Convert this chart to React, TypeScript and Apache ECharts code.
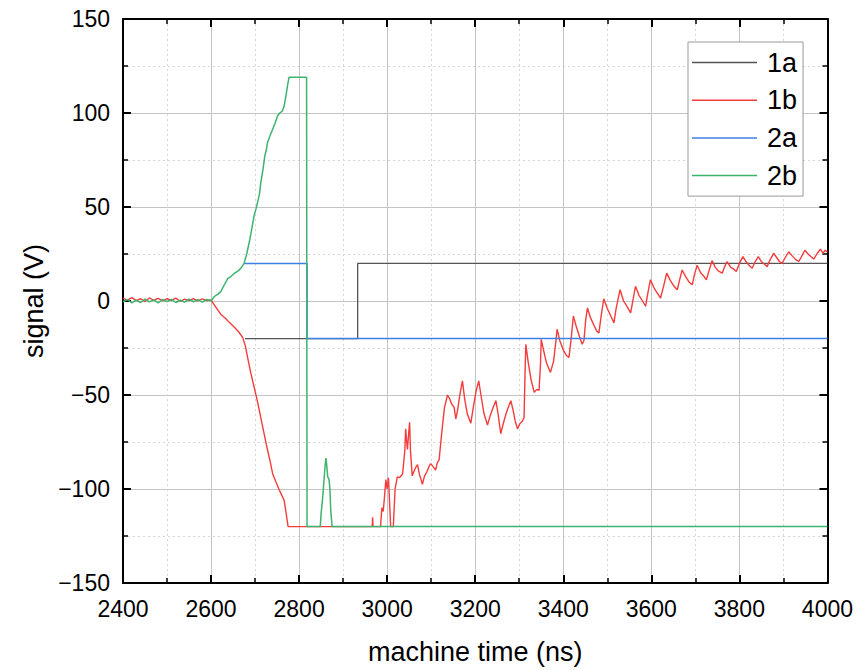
import React, { useEffect, useRef } from "react";
import * as echarts from "echarts";

const seriesNames = ["1a", "1b", "2a", "2b"];
const seriesColors = ["#555555", "#f43c3c", "#3d7fe3", "#3cb46e"];

const s1a: number[][] = [[2677, -20], [2933, -20], [2933, 20], [4000, 20]];

const s2a: number[][] = [[2675, 20], [2818, 20], [2818, -20], [4000, -20]];

const s1b: number[][] = [
  [2400, 1.5], [2410, 0.5], [2420, 1.8], [2430, 0.2], [2440, 1.2], [2450, -0.3], [2460, 1.6], [2470, 0.4],
  [2480, 1.4], [2490, 0], [2500, 1.2], [2510, 0.3], [2520, 1.5], [2530, -0.2], [2540, 1.0], [2550, 0.2],
  [2560, 1.3], [2570, 0.1], [2580, 1.1], [2590, 0.3], [2600, 0.5],
  [2610, -3], [2622, -7], [2632, -9], [2642, -11.5], [2653, -14], [2663, -16.5], [2672, -19.5], [2678, -24],
  [2683, -30], [2690, -38], [2698, -46], [2705, -53], [2713, -62], [2720, -70], [2728, -79], [2734, -85],
  [2740, -92], [2747, -96], [2755, -100.5], [2760, -103], [2766, -106], [2770, -112], [2775, -120],
  [2966, -120], [2967, -115], [2968, -120], [2985, -120], [2988, -110], [2991, -112], [2994, -104], [2997, -95],
  [3000, -100], [3003, -94], [3006, -110], [3008, -120], [3014, -120], [3018, -100], [3023, -93.5], [3028, -94],
  [3035, -92], [3040, -80], [3042, -68], [3044, -74], [3046, -79], [3049, -70], [3051, -64.5], [3053, -80],
  [3057, -93], [3062, -90], [3066, -88], [3069, -87], [3073, -92], [3077, -95], [3080, -97.5], [3085, -93],
  [3090, -91], [3095, -88], [3099, -86.5], [3104, -88], [3110, -90], [3114, -86], [3118, -84.5], [3124, -70],
  [3130, -57], [3137, -50], [3142, -52], [3147, -55], [3152, -56.5], [3156, -62.7], [3160, -58], [3165, -50],
  [3171, -42.5], [3176, -52], [3182, -60], [3190, -65], [3196, -56], [3202, -48], [3208, -42.5], [3213, -50],
  [3220, -60], [3228, -66], [3234, -61], [3240, -57], [3247, -53], [3252, -60], [3258, -70.6], [3264, -65],
  [3270, -60], [3276, -56], [3281, -53], [3286, -58], [3291, -64], [3296, -68], [3302, -65], [3307, -64],
  [3311, -62], [3313, -40], [3315, -23], [3320, -32], [3327, -42], [3334, -48.6], [3340, -47], [3345, -47.6],
  [3348, -35], [3350, -20.4], [3355, -26], [3362, -33], [3371, -38], [3378, -32], [3383, -22], [3386, -15],
  [3392, -21], [3400, -26], [3407, -29], [3413, -30], [3418, -20], [3423, -8], [3430, -14], [3437, -19],
  [3443, -23], [3447, -21], [3451, -10], [3455, -3.7], [3462, -9], [3470, -13], [3476, -16], [3481, -17],
  [3486, -8], [3492, 1.2], [3500, -4], [3508, -8], [3515, -11.6], [3520, -4], [3529, 6], [3537, 0],
  [3545, -3], [3553, -6.3], [3558, 0], [3564, 7.8], [3572, 3], [3580, 0], [3587, -2.8], [3592, 4],
  [3598, 11.3], [3606, 7], [3614, 4], [3621, 1.6], [3627, 7], [3635, 14.8], [3643, 11], [3651, 8],
  [3659, 6], [3664, 11], [3670, 16.5], [3678, 13], [3686, 10], [3693, 8.6], [3698, 14], [3704, 19],
  [3712, 15], [3720, 13], [3725, 11.3], [3731, 16], [3738, 21.5], [3745, 18], [3752, 16], [3761, 14.8],
  [3766, 18], [3772, 21], [3780, 18], [3787, 17], [3793, 15.7], [3800, 20], [3808, 23.6], [3815, 21],
  [3822, 19], [3829, 17.4], [3836, 21], [3843, 23.6], [3850, 21], [3857, 19.5], [3863, 18.3], [3870, 22],
  [3878, 25.4], [3885, 23], [3891, 21], [3897, 20], [3904, 23], [3912, 26.2], [3920, 24], [3928, 22],
  [3935, 21], [3942, 24], [3949, 27], [3956, 25], [3963, 23.5], [3969, 22.3], [3976, 25], [3984, 27.6],
  [3990, 25.5], [3995, 27], [4000, 26],
];

const s2b: number[][] = [
  [2400, -0.5], [2410, 0.8], [2420, -1], [2430, 0.5], [2440, -0.8], [2450, 1], [2460, -0.5], [2470, 0.6],
  [2480, -1], [2490, 0.8], [2500, -0.3], [2510, 0.9], [2520, -0.8], [2530, 0.4], [2540, -0.6], [2550, 1.0],
  [2560, -0.4], [2570, 0.7], [2580, -0.6], [2590, 0.8], [2600, 0], [2608, 2.5], [2615, 3.5], [2622, 5],
  [2630, 8.5], [2638, 12], [2645, 13], [2652, 14.5], [2660, 15.7], [2668, 17.5], [2675, 20], [2681, 25],
  [2687, 31.5], [2693, 39], [2698, 45.6], [2702, 49], [2706, 52.7], [2710, 57], [2713, 63], [2718, 70],
  [2722, 77], [2726, 81], [2728, 84], [2734, 88], [2740, 91.4], [2746, 95], [2751, 98.4], [2756, 100],
  [2762, 101], [2766, 103.7], [2770, 109], [2774, 115], [2777, 119], [2817, 119], [2818, -120], [2848, -120],
  [2850, -113], [2853, -106], [2856, -97], [2859, -88], [2861, -83.5], [2863, -88], [2865, -93.5], [2868, -95],
  [2870, -100], [2872, -112], [2875, -120], [4000, -120],
];

const seriesData = [s1a, s1b, s2a, s2b];
const lineWidths = [1.3, 1.4, 1.5, 1.5];

const X_MIN = 2400, X_MAX = 4000, X_STEP = 200;
const Y_MIN = -150, Y_MAX = 150, Y_STEP = 50;

const FONT = "'Liberation Sans', Arial, sans-serif";

export default function App() {
  const ref = useRef<HTMLDivElement>(null);
  useEffect(() => {
    if (!ref.current) return;
    const chart = echarts.init(ref.current, null, { renderer: "svg" });
    const axisLine = { show: true, onZero: false, lineStyle: { color: "#000", width: 2 } };
    const axisTick = { show: true, inside: true, length: 8, lineStyle: { color: "#000", width: 2 } };
    const minorTick = { show: true, splitNumber: 2, length: 5, lineStyle: { color: "#000", width: 1.5 } };
    const splitLine = { show: true, lineStyle: { color: "#c4c4c4", width: 1 } };
    const minorSplitLine = { show: true, lineStyle: { color: "#d6d6d6", width: 1, type: [2, 3] } };
    const fmt = (v: number) => (v < 0 ? "\u2212" + Math.abs(v) : String(v));
    chart.setOption({
      animation: false,
      backgroundColor: "#fff",
      textStyle: { fontFamily: FONT },
      grid: { left: 123, right: 28, top: 19, bottom: 83 },
      legend: {
        orient: "vertical",
        left: 688,
        top: 42,
        data: seriesNames,
        icon: "rect",
        itemWidth: 65,
        itemHeight: 1.5,
        itemGap: 10.7,
        padding: [7, 6, 7, 4],
        backgroundColor: "#fff",
        borderColor: "#999",
        borderWidth: 1,
        textStyle: { fontSize: 27, color: "#000", fontFamily: FONT, lineHeight: 26, padding: [0, 0, 0, 5] },
      },
      xAxis: [
        {
          type: "value",
          position: "bottom",
          min: X_MIN,
          max: X_MAX,
          interval: X_STEP,
          axisLine,
          axisTick,
          minorTick,
          splitLine,
          minorSplitLine,
          axisLabel: { fontSize: 23, color: "#000", margin: 14, fontFamily: FONT, formatter: fmt },
          name: "machine time (ns)",
          nameLocation: "middle",
          nameGap: 55,
          nameTextStyle: { fontSize: 27, color: "#000", fontFamily: FONT },
        },
        {
          type: "value",
          position: "top",
          min: X_MIN,
          max: X_MAX,
          interval: X_STEP,
          axisLine,
          axisTick,
          minorTick,
          splitLine: { show: false },
          axisLabel: { show: false },
        },
      ],
      yAxis: [
        {
          type: "value",
          position: "left",
          min: Y_MIN,
          max: Y_MAX,
          interval: Y_STEP,
          axisLine,
          axisTick,
          minorTick,
          splitLine,
          minorSplitLine,
          axisLabel: { fontSize: 23, color: "#000", margin: 13, fontFamily: FONT, formatter: fmt },
          name: "signal (V)",
          nameLocation: "middle",
          nameGap: 76,
          nameRotate: 90,
          nameTextStyle: { fontSize: 27, color: "#000", fontFamily: FONT },
        },
        {
          type: "value",
          position: "right",
          min: Y_MIN,
          max: Y_MAX,
          interval: Y_STEP,
          axisLine,
          axisTick,
          minorTick,
          splitLine: { show: false },
          axisLabel: { show: false },
        },
      ],
      series: seriesNames.map((name, i) => ({
        name,
        type: "line",
        xAxisIndex: 0,
        yAxisIndex: 0,
        data: seriesData[i],
        showSymbol: false,
        symbol: "none",
        clip: true,
        color: seriesColors[i],
        lineStyle: { color: seriesColors[i], width: lineWidths[i] },
        emphasis: { disabled: true },
      })),
    });
    return () => chart.dispose();
  }, []);
  return (
    <div
      ref={ref}
      style={{ position: "fixed", left: 0, top: 0, width: 856, height: 670, background: "#fff" }}
    />
  );
}
